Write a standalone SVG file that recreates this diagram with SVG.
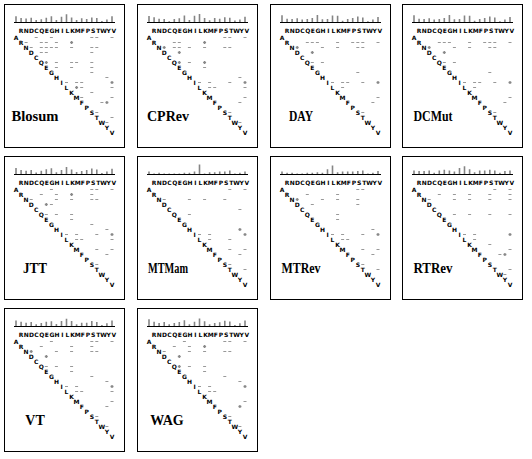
<svg xmlns="http://www.w3.org/2000/svg" xmlns:xlink="http://www.w3.org/1999/xlink" width="532" height="459" viewBox="0 0 532 459">
<style>
.aa{font-family:"DejaVu Sans",sans-serif;font-size:6px;font-weight:bold;text-anchor:middle;fill:#000}
.lbl{font-family:"Liberation Serif","Times New Roman",serif;font-size:14px;font-weight:bold;text-anchor:middle;fill:#000}
.frame{fill:#fff;stroke:#000;stroke-width:1}
.bar{stroke:#858585;stroke-width:1.6;fill:none;transform:matrix(1,0,0,1.2,0,-3.6)}
.dash{stroke:#999;stroke-width:1;fill:none}
.plus{stroke:#888;stroke-width:1.3;fill:none}
.axis{stroke:#000;stroke-width:1;fill:none}
</style>
<defs>
<g id="grid">
<path class="axis" d="M10 18.5H111"/>
<text class="aa" x="17.1 22.2 27.4 32.5 37.7 42.8 48 53.1 58.3 63.4 68.6 73.7 78.9 84 89.2 94.3 99.5 104.6 109.8" y="28.5">RNDCQEGHILKMFPSTWYV</text>
<text class="aa" x="12 17.1 22.1 27.2 32.2 37.3 42.3 47.4 52.4 57.5 62.5 67.6 72.6 77.7 82.7 87.8 92.8 97.9 102.9 108" y="35.7 40.7 45.7 50.7 55.7 60.7 65.7 70.7 75.7 80.7 85.7 90.7 95.7 100.7 105.7 110.7 115.7 120.7 125.7 130.7">ARNDCQEGHILKMFPSTWYV</text>
</g>
</defs>
<rect width="532" height="459" fill="#fff"/>

<g id="panel-blosum" transform="translate(4,4)">
<rect class="frame" x="0.5" y="0.5" width="120" height="143"/>
<path class="bar" d="M12 18v-4.8M17.1 18v-3.4M22.1 18v-2.9M27.2 18v-3.5M32.2 18v-1.6M37.3 18v-2.2M42.3 18v-3.5M47.4 18v-4.8M52.4 18v-1.7M57.5 18v-4.4M62.5 18v-6.4M67.6 18v-3.8M72.6 18v-1.6M77.7 18v-3.1M82.7 18v-2.5M87.8 18v-3.7M92.8 18v-3.3M97.9 18v-0.8M102.9 18v-2.1M108 18v-4.7"/>
<use xlink:href="#grid" href="#grid"/>
<path class="dash" d="M30.7 33.5h3M45.9 33.5h3M86.3 33.5h3M91.3 33.5h3M106.5 33.5h3M20.6 38.5h3M35.8 38.5h3M40.8 38.5h3M50.9 38.5h3M25.7 43.5h3M35.8 43.5h3M40.8 43.5h3M45.9 43.5h3M50.9 43.5h3M66.1 43.5h3M86.3 43.5h3M91.3 43.5h3M35.8 48.5h3M40.8 48.5h3M86.3 48.5h3M50.9 58.5h3M66.1 58.5h3M71.1 58.5h3M86.3 58.5h3M50.9 63.5h3M66.1 63.5h3M86.3 63.5h3M86.3 68.5h3M101.4 73.5h3M61 78.5h3M71.1 78.5h3M76.2 78.5h3M76.2 83.5h3M106.5 83.5h3M86.3 88.5h3M76.2 93.5h3M106.5 93.5h3M96.4 98.5h3M91.3 108.5h3M106.5 113.5h3M101.4 118.5h3"/>
<path class="plus" d="M66.1 38.5h3m-1.5-1.5v3M40.8 58.5h3m-1.5-1.5v3M106.5 78.5h3m-1.5-1.5v3M71.1 83.5h3m-1.5-1.5v3M101.4 98.5h3m-1.5-1.5v3"/>
<text class="lbl" x="31" y="117" textLength="47" lengthAdjust="spacingAndGlyphs">Blosum</text>
</g>

<g id="panel-cprev" transform="translate(137,4)">
<rect class="frame" x="0.5" y="0.5" width="120" height="143"/>
<path class="bar" d="M12 18v-4.9M17.1 18v-4M22.1 18v-2.7M27.2 18v-2.4M32.2 18v-0.6M37.3 18v-2.5M42.3 18v-3.2M47.4 18v-5.5M52.4 18v-1.6M57.5 18v-5.3M62.5 18v-6.6M67.6 18v-3.3M72.6 18v-1.4M77.7 18v-3.3M82.7 18v-2.8M87.8 18v-4M92.8 18v-3.6M97.9 18v-1.3M102.9 18v-2M108 18v-4.3"/>
<use xlink:href="#grid" href="#grid"/>
<path class="dash" d="M86.3 33.5h3M91.3 33.5h3M106.5 33.5h3M35.8 38.5h3M40.8 38.5h3M35.8 43.5h3M40.8 43.5h3M50.9 43.5h3M66.1 43.5h3M86.3 43.5h3M91.3 43.5h3M50.9 58.5h3M66.1 63.5h3M101.4 73.5h3M61 78.5h3M71.1 78.5h3M91.3 78.5h3M71.1 83.5h3M76.2 83.5h3M106.5 83.5h3M106.5 93.5h3M101.4 98.5h3M91.3 108.5h3M101.4 118.5h3"/>
<path class="plus" d="M66.1 38.5h3m-1.5-1.5v3M25.7 43.5h3m-1.5-1.5v3M40.8 48.5h3m-1.5-1.5v3M40.8 58.5h3m-1.5-1.5v3M66.1 58.5h3m-1.5-1.5v3M106.5 78.5h3m-1.5-1.5v3"/>
<text class="lbl" x="31" y="117">CPRev</text>
</g>

<g id="panel-day" transform="translate(270,4)">
<rect class="frame" x="0.5" y="0.5" width="120" height="143"/>
<path class="bar" d="M12 18v-5.7M17.1 18v-2.7M22.1 18v-2.6M27.2 18v-3.1M32.2 18v-2.1M37.3 18v-2.5M42.3 18v-3.3M47.4 18v-5.8M52.4 18v-2.2M57.5 18v-2.4M62.5 18v-5.5M67.6 18v-5.2M72.6 18v-1M77.7 18v-2.6M82.7 18v-3.3M87.8 18v-4.6M92.8 18v-3.8M97.9 18v-0.7M102.9 18v-2M108 18v-4.2"/>
<use xlink:href="#grid" href="#grid"/>
<path class="dash" d="M35.8 38.5h3M40.8 38.5h3M45.9 38.5h3M66.1 38.5h3M81.2 38.5h3M86.3 38.5h3M91.3 38.5h3M106.5 38.5h3M50.9 43.5h3M66.1 43.5h3M86.3 43.5h3M91.3 43.5h3M40.8 58.5h3M50.9 58.5h3M86.3 68.5h3M61 78.5h3M71.1 78.5h3M76.2 78.5h3M91.3 78.5h3M71.1 83.5h3M106.5 93.5h3M101.4 98.5h3M91.3 108.5h3"/>
<path class="plus" d="M25.7 43.5h3m-1.5-1.5v3M40.8 48.5h3m-1.5-1.5v3M106.5 78.5h3m-1.5-1.5v3"/>
<text class="lbl" x="31" y="117" textLength="24" lengthAdjust="spacingAndGlyphs">DAY</text>
</g>

<g id="panel-dcmut" transform="translate(402,4)">
<rect class="frame" x="0.5" y="0.5" width="120" height="143"/>
<path class="bar" d="M12 18v-5.7M17.1 18v-2.7M22.1 18v-2.6M27.2 18v-3.1M32.2 18v-2.1M37.3 18v-2.5M42.3 18v-3.3M47.4 18v-5.8M52.4 18v-2.2M57.5 18v-2.4M62.5 18v-5.5M67.6 18v-5.2M72.6 18v-1M77.7 18v-2.6M82.7 18v-3.3M87.8 18v-4.6M92.8 18v-3.8M97.9 18v-0.7M102.9 18v-2M108 18v-4.2"/>
<use xlink:href="#grid" href="#grid"/>
<path class="dash" d="M35.8 38.5h3M40.8 38.5h3M45.9 38.5h3M66.1 38.5h3M81.2 38.5h3M86.3 38.5h3M91.3 38.5h3M106.5 38.5h3M50.9 43.5h3M66.1 43.5h3M86.3 43.5h3M91.3 43.5h3M40.8 58.5h3M50.9 58.5h3M86.3 68.5h3M61 78.5h3M71.1 78.5h3M76.2 78.5h3M91.3 78.5h3M71.1 83.5h3M106.5 93.5h3M101.4 98.5h3M91.3 108.5h3"/>
<path class="plus" d="M25.7 43.5h3m-1.5-1.5v3M40.8 48.5h3m-1.5-1.5v3M106.5 78.5h3m-1.5-1.5v3"/>
<text class="lbl" x="31" y="117" textLength="39" lengthAdjust="spacingAndGlyphs">DCMut</text>
</g>

<g id="panel-jtt" transform="translate(4,156)">
<rect class="frame" x="0.5" y="0.5" width="120" height="143"/>
<path class="bar" d="M12 18v-5M17.1 18v-3.4M22.1 18v-2.8M27.2 18v-3.4M32.2 18v-1.3M37.3 18v-2.7M42.3 18v-4M47.4 18v-4.8M52.4 18v-1.5M57.5 18v-3.4M62.5 18v-5.9M67.6 18v-3.8M72.6 18v-1.6M77.7 18v-2.6M82.7 18v-3.3M87.8 18v-4.5M92.8 18v-3.8M97.9 18v-0.9M102.9 18v-2.1M108 18v-4.3"/>
<use xlink:href="#grid" href="#grid"/>
<path class="dash" d="M45.9 33.5h3M86.3 33.5h3M91.3 33.5h3M106.5 33.5h3M35.8 38.5h3M50.9 38.5h3M86.3 38.5h3M25.7 43.5h3M50.9 43.5h3M66.1 43.5h3M86.3 43.5h3M91.3 43.5h3M45.9 48.5h3M40.8 58.5h3M50.9 58.5h3M66.1 58.5h3M66.1 63.5h3M86.3 68.5h3M101.4 73.5h3M61 78.5h3M71.1 78.5h3M91.3 78.5h3M71.1 83.5h3M76.2 83.5h3M106.5 83.5h3M91.3 93.5h3M106.5 93.5h3M101.4 98.5h3M91.3 108.5h3"/>
<path class="plus" d="M66.1 38.5h3m-1.5-1.5v3M40.8 48.5h3m-1.5-1.5v3M106.5 78.5h3m-1.5-1.5v3"/>
<text class="lbl" x="31" y="117" textLength="24" lengthAdjust="spacingAndGlyphs">JTT</text>
</g>

<g id="panel-mtmam" transform="translate(137,156)">
<rect class="frame" x="0.5" y="0.5" width="120" height="143"/>
<path class="bar" d="M12 18v-2M17.1 18v-0.5M22.1 18v-1M27.2 18v-0.5M32.2 18v-0.5M37.3 18v-0.5M42.3 18v-0.5M47.4 18v-1M52.4 18v-1M57.5 18v-2M62.5 18v-8M67.6 18v-0.5M72.6 18v-1.5M77.7 18v-1.5M82.7 18v-2M87.8 18v-2M92.8 18v-3M97.9 18v-0.5M102.9 18v-1M108 18v-2"/>
<use xlink:href="#grid" href="#grid"/>
<path class="dash" d="M91.3 33.5h3M106.5 33.5h3M25.7 43.5h3M50.9 43.5h3M66.1 43.5h3M86.3 43.5h3M101.4 53.5h3M50.9 58.5h3M61 78.5h3M71.1 78.5h3M71.1 83.5h3M91.3 83.5h3M91.3 93.5h3M106.5 93.5h3M101.4 98.5h3M91.3 108.5h3M106.5 113.5h3"/>
<path class="plus" d="M101.4 73.5h3m-1.5-1.5v3M106.5 78.5h3m-1.5-1.5v3"/>
<text class="lbl" x="31" y="117" textLength="40" lengthAdjust="spacingAndGlyphs">MTMam</text>
</g>

<g id="panel-mtrev" transform="translate(270,156)">
<rect class="frame" x="0.5" y="0.5" width="120" height="143"/>
<path class="bar" d="M12 18v-2M17.1 18v-1M22.1 18v-1M27.2 18v-0.5M32.2 18v-0.5M37.3 18v-1M42.3 18v-1M47.4 18v-1.5M52.4 18v-1M57.5 18v-4M62.5 18v-7M67.6 18v-1.5M72.6 18v-2M77.7 18v-2M82.7 18v-2M87.8 18v-2.5M92.8 18v-3M97.9 18v-0.5M102.9 18v-1M108 18v-2.5"/>
<use xlink:href="#grid" href="#grid"/>
<path class="dash" d="M86.3 33.5h3M91.3 33.5h3M35.8 38.5h3M66.1 38.5h3M50.9 43.5h3M66.1 43.5h3M86.3 43.5h3M40.8 48.5h3M86.3 48.5h3M66.1 58.5h3M66.1 63.5h3M101.4 73.5h3M61 78.5h3M71.1 78.5h3M91.3 78.5h3M71.1 83.5h3M76.2 83.5h3M91.3 93.5h3M106.5 93.5h3M101.4 98.5h3M91.3 108.5h3M106.5 113.5h3"/>
<path class="plus" d="M25.7 43.5h3m-1.5-1.5v3M106.5 78.5h3m-1.5-1.5v3"/>
<text class="lbl" x="31" y="117" textLength="39" lengthAdjust="spacingAndGlyphs">MTRev</text>
</g>

<g id="panel-rtrev" transform="translate(402,156)">
<rect class="frame" x="0.5" y="0.5" width="120" height="143"/>
<path class="bar" d="M12 18v-3M17.1 18v-2.5M22.1 18v-2.5M27.2 18v-3M32.2 18v-1M37.3 18v-3M42.3 18v-3.5M47.4 18v-3M52.4 18v-2M57.5 18v-5M62.5 18v-6.5M67.6 18v-4M72.6 18v-1.5M77.7 18v-3M82.7 18v-3M87.8 18v-3.5M92.8 18v-3M97.9 18v-1M102.9 18v-2.5M108 18v-3"/>
<use xlink:href="#grid" href="#grid"/>
<path class="dash" d="M91.3 33.5h3M106.5 33.5h3M35.8 38.5h3M50.9 38.5h3M66.1 38.5h3M86.3 38.5h3M106.5 38.5h3M25.7 43.5h3M50.9 43.5h3M66.1 43.5h3M86.3 43.5h3M106.5 43.5h3M50.9 58.5h3M66.1 58.5h3M86.3 58.5h3M106.5 58.5h3M61 78.5h3M71.1 78.5h3M71.1 83.5h3M86.3 88.5h3M106.5 93.5h3M96.4 98.5h3M106.5 113.5h3M101.4 118.5h3"/>
<path class="plus" d="M106.5 78.5h3m-1.5-1.5v3M101.4 98.5h3m-1.5-1.5v3"/>
<text class="lbl" x="31" y="117" textLength="39" lengthAdjust="spacingAndGlyphs">RTRev</text>
</g>

<g id="panel-vt" transform="translate(4,308)">
<rect class="frame" x="0.5" y="0.5" width="120" height="143"/>
<path class="bar" d="M12 18v-4.6M17.1 18v-3.5M22.1 18v-2.7M27.2 18v-3.3M32.2 18v-1.4M37.3 18v-2.5M42.3 18v-3.5M47.4 18v-4M52.4 18v-1.7M57.5 18v-4.2M62.5 18v-6M67.6 18v-4.2M72.6 18v-1.5M77.7 18v-2.8M82.7 18v-2.8M87.8 18v-4.2M92.8 18v-3.4M97.9 18v-0.9M102.9 18v-2.3M108 18v-4.5"/>
<use xlink:href="#grid" href="#grid"/>
<path class="dash" d="M45.9 33.5h3M86.3 33.5h3M91.3 33.5h3M106.5 33.5h3M35.8 38.5h3M66.1 38.5h3M86.3 38.5h3M50.9 43.5h3M66.1 43.5h3M86.3 43.5h3M91.3 43.5h3M40.8 58.5h3M50.9 58.5h3M66.1 58.5h3M66.1 63.5h3M86.3 68.5h3M101.4 73.5h3M61 78.5h3M71.1 78.5h3M71.1 83.5h3M76.2 83.5h3M106.5 83.5h3M106.5 93.5h3M101.4 98.5h3M91.3 108.5h3M101.4 118.5h3"/>
<path class="plus" d="M25.7 43.5h3m-1.5-1.5v3M40.8 48.5h3m-1.5-1.5v3M106.5 78.5h3m-1.5-1.5v3"/>
<text class="lbl" x="31" y="117">VT</text>
</g>

<g id="panel-wag" transform="translate(137,308)">
<rect class="frame" x="0.5" y="0.5" width="120" height="143"/>
<path class="bar" d="M12 18v-5.6M17.1 18v-3.5M22.1 18v-2.6M27.2 18v-3.3M32.2 18v-1.5M37.3 18v-2.6M42.3 18v-3.4M47.4 18v-4.7M52.4 18v-1.5M57.5 18v-3.5M62.5 18v-6.2M67.6 18v-4M72.6 18v-1.5M77.7 18v-2.6M82.7 18v-3.2M87.8 18v-4.4M92.8 18v-3.7M97.9 18v-0.9M102.9 18v-2.2M108 18v-4.5"/>
<use xlink:href="#grid" href="#grid"/>
<path class="dash" d="M45.9 33.5h3M86.3 33.5h3M91.3 33.5h3M106.5 33.5h3M35.8 38.5h3M50.9 38.5h3M25.7 43.5h3M50.9 43.5h3M66.1 43.5h3M86.3 43.5h3M91.3 43.5h3M50.9 58.5h3M66.1 58.5h3M66.1 63.5h3M86.3 68.5h3M101.4 73.5h3M61 78.5h3M71.1 78.5h3M71.1 83.5h3M76.2 83.5h3M106.5 93.5h3M91.3 108.5h3M101.4 118.5h3"/>
<path class="plus" d="M66.1 38.5h3m-1.5-1.5v3M40.8 48.5h3m-1.5-1.5v3M40.8 58.5h3m-1.5-1.5v3M106.5 78.5h3m-1.5-1.5v3M101.4 98.5h3m-1.5-1.5v3"/>
<text class="lbl" x="30" y="117">WAG</text>
</g>
</svg>
